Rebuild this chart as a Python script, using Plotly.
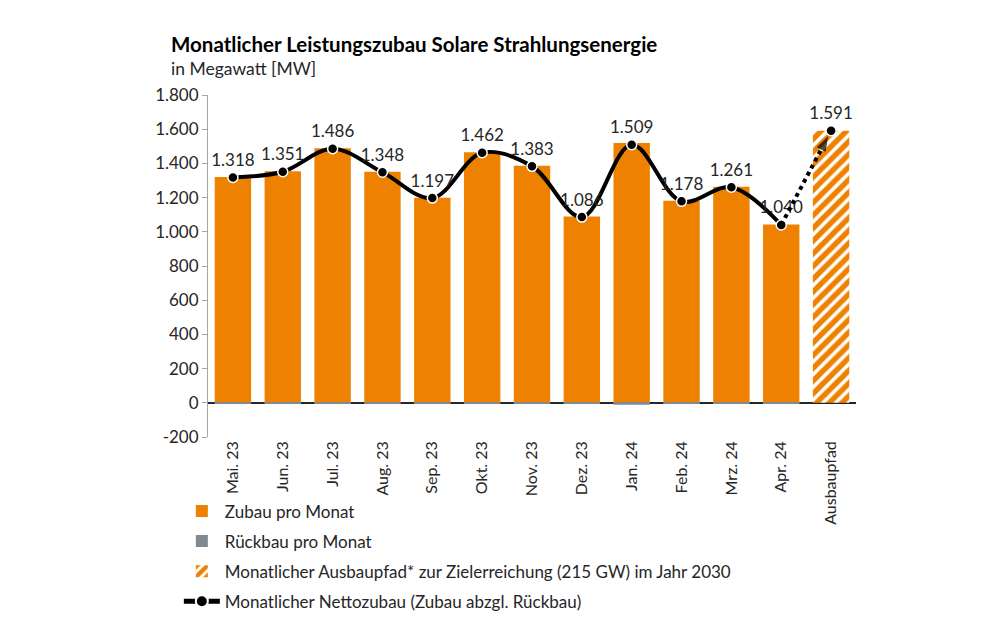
import plotly.graph_objects as go

# Monthly solar additions (MW)
months = ["Mai. 23", "Jun. 23", "Jul. 23", "Aug. 23", "Sep. 23", "Okt. 23",
          "Nov. 23", "Dez. 23", "Jan. 24", "Feb. 24", "Mrz. 24", "Apr. 24"]
target_label = "Ausbaupfad"
zubau = [1321, 1354, 1489, 1351, 1199, 1465, 1386, 1089, 1520, 1181, 1264, 1043]
rueckbau = [-3, -3, -3, -3, -2, -3, -3, -3, -11, -3, -3, -3]
netto = [1318, 1351, 1486, 1348, 1197, 1462, 1383, 1086, 1509, 1178, 1261, 1040]
ausbaupfad = 1591
y_ticks = [-200, 0, 200, 400, 600, 800, 1000, 1200, 1400, 1600, 1800]

orange = "#EE8200"
grey = "#7F8A93"
font = "Lato"
txt = "#262626"
categories = months + [target_label]


def de(v):
    # German thousands separator, plain hyphen for negatives
    return f"{v:,}".replace(",", ".")


fig = go.Figure()

fig.add_trace(go.Bar(x=months, y=zubau, name="Zubau pro Monat", legendgroup="a",
                     marker=dict(color=orange, line=dict(width=0))))
fig.add_trace(go.Bar(x=months, y=rueckbau, name="Rückbau pro Monat", legendgroup="b",
                     marker=dict(color=grey, line=dict(width=0))))
fig.add_trace(go.Bar(x=[target_label], y=[ausbaupfad], legendgroup="c",
                     name="Monatlicher Ausbaupfad* zur Zielerreichung (215 GW) im Jahr 2030",
                     marker=dict(color="white", line=dict(width=0),
                                 pattern=dict(shape="/", fgcolor=orange, fgopacity=1,
                                              bgcolor="white", size=9, solidity=0.6))))

# net line (smooth) with labels
fig.add_trace(go.Scatter(x=months, y=netto, mode="lines+markers+text", legendgroup="d",
                         name="Monatlicher Nettozubau (Zubau abzgl. Rückbau)",
                         line=dict(color="black", width=4, shape="spline", smoothing=1.0),
                         marker=dict(color="black", size=10, line=dict(color="white", width=1.5)),
                         text=[de(v) for v in netto],
                         textposition="top center",
                         textfont=dict(family=font, size=17, color=txt)))

# dotted continuation to target path, with arrow head
fig.add_trace(go.Scatter(x=[months[-1], target_label], y=[netto[-1], ausbaupfad],
                         mode="lines+markers", showlegend=False,
                         line=dict(color="black", width=4, dash="dot"),
                         marker=dict(color="black", size=[0, 16], symbol=["circle", "arrow"],
                                     angleref="previous", standoff=6, line=dict(width=0))))
fig.add_trace(go.Scatter(x=[target_label], y=[ausbaupfad],
                         mode="markers+text", showlegend=False,
                         marker=dict(color="black", size=10, line=dict(color="white", width=1.5)),
                         text=[de(ausbaupfad)], textposition="top center",
                         textfont=dict(family=font, size=17, color=txt)))

fig.update_layout(
    width=1000, height=640,
    barmode="relative", bargap=0.27,
    paper_bgcolor="white", plot_bgcolor="white",
    margin=dict(l=200, r=152, t=87, b=211),
    font=dict(family=font, size=17, color=txt),
    showlegend=True,
    legend=dict(x=-0.045, y=-0.165, xanchor="left", yanchor="top",
                orientation="v", traceorder="grouped",
                font=dict(family=font, size=17, color=txt),
                itemsizing="constant", itemwidth=36, tracegroupgap=5,
                bgcolor="rgba(0,0,0,0)"),
    annotations=[
        dict(text="<b>Monatlicher Leistungszubau Solare Strahlungsenergie</b>",
             xref="paper", yref="paper", x=-0.06, y=1.15,
             xanchor="left", yanchor="middle", showarrow=False,
             font=dict(family=font, size=20.5, color="black")),
        dict(text="in Megawatt [MW]",
             xref="paper", yref="paper", x=-0.06, y=1.077,
             xanchor="left", yanchor="middle", showarrow=False,
             font=dict(family=font, size=17.5, color=txt)),
    ],
)

fig.update_xaxes(categoryorder="array", categoryarray=categories,
                 range=[-0.5, len(categories) - 0.5],
                 tickangle=-90, showline=False, ticks="",
                 tickfont=dict(family=font, size=16, color=txt))
fig.update_yaxes(range=[-200, 1800], tickvals=y_ticks, ticktext=[de(v) for v in y_ticks],
                 showgrid=False, showline=True, linecolor="#A6A6A6", linewidth=1,
                 ticks="outside", ticklen=5, tickcolor="#A6A6A6",
                 zeroline=True, zerolinecolor="#262626", zerolinewidth=2,
                 tickfont=dict(family=font, size=17, color=txt))

fig.write_html("out.html")
